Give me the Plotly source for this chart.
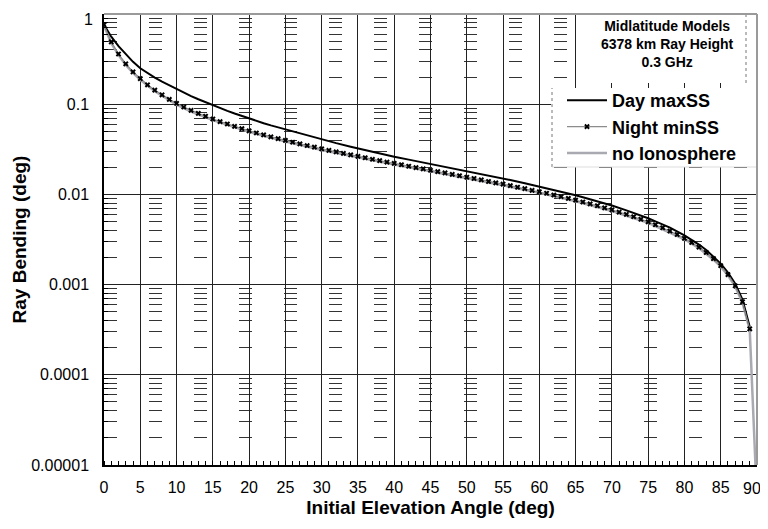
import plotly.graph_objects as go

# ---------------- data ----------------
night_x = list(range(0, 90))
night_y = [0.76, 0.49, 0.36, 0.28, 0.228, 0.192, 0.164, 0.143, 0.127, 0.113,
           0.102, 0.093, 0.0855, 0.079, 0.0735, 0.0685, 0.0642, 0.0603, 0.0568, 0.0536,
           0.0507, 0.048, 0.0457, 0.0435, 0.0415, 0.0397, 0.0379, 0.0363, 0.0348, 0.0334,
           0.032, 0.0308, 0.0296, 0.0285, 0.0274, 0.0264, 0.0255, 0.0245, 0.0237, 0.0228,
           0.0221, 0.0213, 0.0205, 0.0198, 0.0192, 0.0185, 0.0179, 0.0173, 0.0167, 0.0161,
           0.0155, 0.015, 0.0145, 0.0139, 0.0134, 0.013, 0.0125, 0.012, 0.0116, 0.0111,
           0.0107, 0.0103, 0.00984, 0.00943, 0.00902, 0.00863, 0.00824, 0.00785, 0.00748, 0.0071,
           0.00673, 0.00637, 0.00601, 0.00566, 0.0053, 0.00496, 0.00461, 0.00427, 0.00393, 0.00359,
           0.00326, 0.00293, 0.0026, 0.00227, 0.00194, 0.00162, 0.00129, 0.00097, 0.000646, 0.000323]

day_x = [0, 1, 2, 3, 4, 5, 6, 7, 8, 9, 10, 11, 12, 13, 14, 15, 16, 17, 18, 19,
         20, 21, 22, 23, 24, 25, 26, 27, 28, 29, 30, 32, 34, 35, 36, 38, 40, 42, 44, 45,
         46, 48, 50, 52, 54, 55, 56, 58, 60, 62, 64, 65, 66, 68, 70, 72, 74, 75, 76, 78,
         80, 81, 82, 83, 84, 85, 86, 87, 88, 89]
day_y = [0.76, 0.56, 0.44, 0.36, 0.295, 0.25, 0.22, 0.197, 0.178, 0.162,
         0.148, 0.134, 0.123, 0.1135, 0.105, 0.0978, 0.0907, 0.0844, 0.0788, 0.0738,
         0.0692, 0.0651, 0.0616, 0.0582, 0.0553, 0.0523, 0.0496, 0.0471, 0.045, 0.0428,
         0.0407, 0.037, 0.0338, 0.0323, 0.031, 0.0284, 0.0262, 0.0243, 0.0226, 0.0217,
         0.0209, 0.0194, 0.018, 0.0168, 0.0156, 0.015, 0.01444, 0.0133, 0.01223, 0.01122,
         0.01025, 0.00979, 0.0093, 0.0084, 0.00753, 0.00666, 0.00585, 0.00544, 0.00503, 0.00428,
         0.00352, 0.00314, 0.00278, 0.00242, 0.00206, 0.00171, 0.00136, 0.00102, 0.00068, 0.00034]

noiono_x = [0, 1, 2, 3, 4, 5, 7, 10, 12, 15, 20, 25, 30, 35, 40, 45, 50, 55, 60, 65,
            70, 75, 80, 82, 84, 85, 86, 87, 88, 89, 90]
noiono_y = [0.74, 0.475, 0.35, 0.272, 0.222, 0.186, 0.139, 0.099, 0.083, 0.0665,
            0.0493, 0.0386, 0.0311, 0.0257, 0.0215, 0.018, 0.0151, 0.0126, 0.0104, 0.0084,
            0.00655, 0.00483, 0.00318, 0.00253, 0.00189, 0.00158, 0.00126, 0.00095, 0.00063, 0.000315,
            0.000004]

x_tick_vals = list(range(0, 95, 5))
x_tick_text = [str(v) for v in x_tick_vals]
y_tick_vals = [1e-5, 1e-4, 1e-3, 1e-2, 1e-1, 1]
y_tick_text = ["0.00001", "0.0001", "0.001", "0.01", "0.1", "1"]
y_minor_vals = [m * 10 ** e for e in range(-5, 0) for m in range(2, 10)]

names = ["Day maxSS", "Night minSS", "no Ionosphere"]
note_lines = ["Midlatitude Models", "6378 km Ray Height", "0.3 GHz"]

FONT = "Liberation Sans, Arial, Helvetica, sans-serif"

fig = go.Figure()
fig.add_trace(go.Scatter(x=noiono_x, y=noiono_y, mode="lines", name=names[2],
                         line=dict(color="#a9a9b2", width=2.5), legendrank=3))
fig.add_trace(go.Scatter(x=day_x, y=day_y, mode="lines", name=names[0],
                         line=dict(color="black", width=2), legendrank=1))
fig.add_trace(go.Scatter(x=night_x, y=night_y, mode="lines+markers", name=names[1],
                         line=dict(color="#8c8c8c", width=1.2),
                         marker=dict(symbol="x", size=5, color="black"), legendrank=2))

# page body has an 8px margin, so the figure is placed at (8, 8) in the window
OFF = 8
W, H = 752, 513
L, R, T, B = 96, 3, 6, 56
pw, ph = W - L - R, H - T - B


def px2x(p):
    """window pixel x -> paper x"""
    return (p - OFF - L) / pw


def py2y(p):
    """window pixel y -> paper y"""
    return (H - B - (p - OFF)) / ph


shapes = [
    # white boxes behind note and legend (hide gridlines; no curve passes there)
    dict(type="rect", xref="paper", yref="paper", x0=px2x(577), x1=1, y0=py2y(83), y1=1,
         fillcolor="white", line=dict(width=0), layer="above"),
    dict(type="rect", xref="paper", yref="paper", x0=px2x(551), x1=1, y0=py2y(167), y1=py2y(88),
         fillcolor="white", line=dict(width=0), layer="above"),
    dict(type="line", xref="paper", yref="paper", x0=px2x(746), x1=px2x(746), y0=py2y(83), y1=1,
         line=dict(color="#777", width=1, dash="dot"), layer="above"),
    dict(type="line", xref="paper", yref="paper", x0=px2x(552), x1=px2x(552), y0=py2y(167), y1=py2y(88),
         line=dict(color="#777", width=1, dash="dot"), layer="above"),
    dict(type="line", xref="paper", yref="paper", x0=px2x(552), x1=1, y0=py2y(167), y1=py2y(167),
         line=dict(color="#dddddd", width=1), layer="above"),
    # top / right frame in grey
    dict(type="line", xref="paper", yref="paper", x0=0, x1=1, y0=1, y1=1,
         line=dict(color="#9a9a9a", width=2), layer="above"),
    dict(type="line", xref="paper", yref="paper", x0=1, x1=1, y0=0, y1=1,
         line=dict(color="#9a9a9a", width=2), layer="above"),
]

annotations = [
    dict(xref="paper", yref="paper", x=px2x(667), y=py2y(44),
         xanchor="center", yanchor="middle", showarrow=False,
         text="<br>".join(note_lines),
         font=dict(family=FONT, size=14, weight="bold", color="black"),
         align="center"),
    # last x tick label, nudged left so it stays inside the page
    dict(xref="x", yref="paper", x=x_tick_vals[-1], y=0, xanchor="center", yanchor="middle",
         xshift=-5, yshift=-23, showarrow=False, text=x_tick_text[-1],
         font=dict(family=FONT, size=16, color="black")),
    # top y tick label, nudged down so it stays inside the page
    dict(xref="paper", yref="paper", x=0, y=1, xanchor="right", yanchor="top",
         xshift=-9, yshift=5, showarrow=False, text=y_tick_text[-1],
         font=dict(family=FONT, size=16, color="black")),
]

fig.update_layout(
    width=W, height=H,
    margin=dict(l=L, r=R, t=T, b=B, pad=0, autoexpand=False),
    paper_bgcolor="white", plot_bgcolor="white",
    font=dict(family=FONT, color="black", size=16),
    showlegend=True,
    legend=dict(x=px2x(562), y=py2y(82), xanchor="left", yanchor="top",
                bgcolor="rgba(0,0,0,0)", borderwidth=0,
                font=dict(family=FONT, size=18, weight="bold", color="black"),
                itemwidth=40, tracegroupgap=0),
    shapes=shapes,
    annotations=annotations,
)

fig.update_xaxes(
    range=[0, 90], automargin=False,
    tickvals=x_tick_vals[:-1], ticktext=x_tick_text[:-1],
    showgrid=True, gridcolor="#222", gridwidth=1,
    showline=True, linecolor="black", linewidth=2,
    ticks="", ticklabelstandoff=7, ticklabeloverflow="allow",
    tickfont=dict(size=16),
    zeroline=False,
    minor=dict(dtick=1, tick0=0, ticks="inside", ticklen=4, tickcolor="black", tickwidth=1,
               showgrid=False),
    title=dict(text="Initial Elevation Angle (deg)",
               font=dict(family=FONT, size=19, weight="bold"), standoff=5),
)

fig.update_yaxes(
    type="log", range=[-5, 0], automargin=False,
    tickvals=y_tick_vals[:-1], ticktext=y_tick_text[:-1],
    showgrid=True, gridcolor="#222", gridwidth=1,
    showline=True, linecolor="black", linewidth=1.5,
    ticks="", ticklabelstandoff=10, ticklabeloverflow="allow",
    tickfont=dict(size=16),
    zeroline=False,
    minor=dict(tickvals=y_minor_vals, ticks="inside", ticklen=4, tickcolor="black", tickwidth=1,
               showgrid=True, gridcolor="#333", gridwidth=1.3, griddash="13px,32px"),
    title=dict(text="Ray Bending (deg)",
               font=dict(family=FONT, size=19, weight="bold"), standoff=0),
)

fig.write_html("out.html")
